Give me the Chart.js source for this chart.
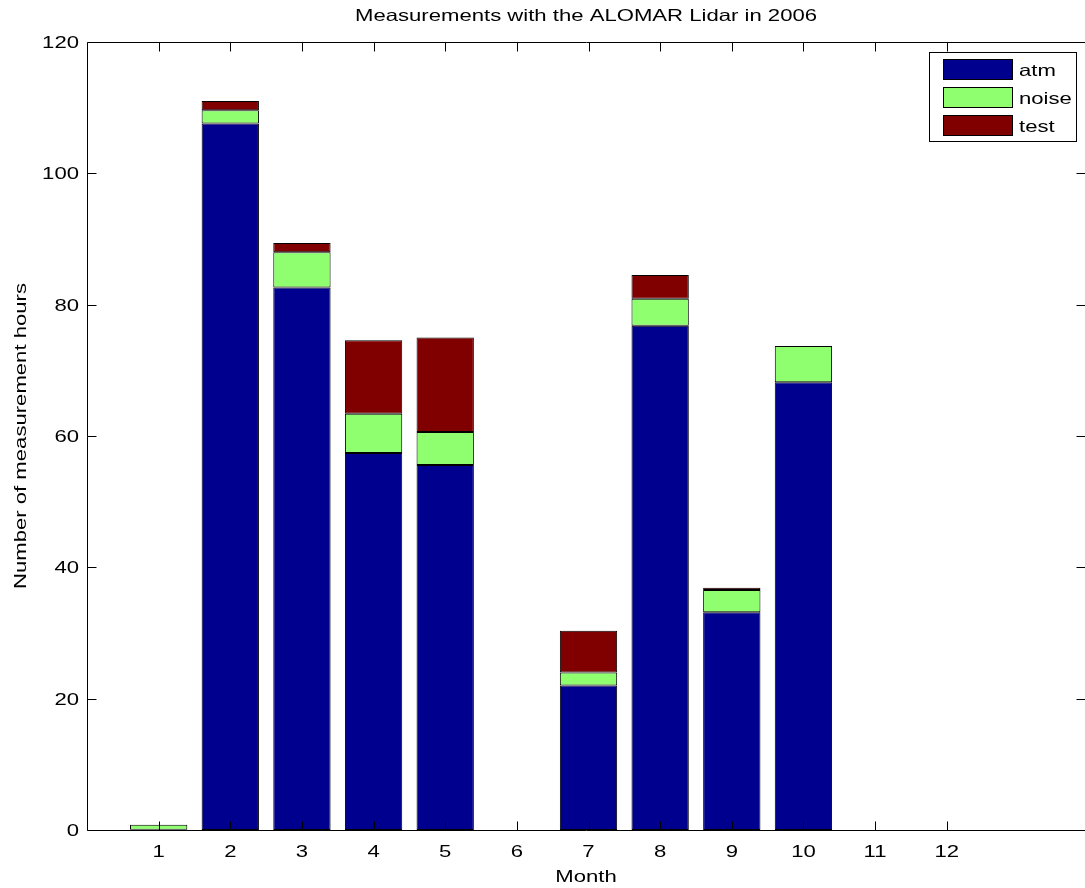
<!DOCTYPE html>
<html>
<head>
<meta charset="utf-8">
<title>Measurements with the ALOMAR Lidar in 2006</title>
<script src="https://cdn.jsdelivr.net/npm/chart.js@4.4.1/dist/chart.umd.min.js"></script>
<style>
  html, body { margin: 0; padding: 0; background: #ffffff; }
  #wrap { width: 1085px; height: 888px; }
</style>
</head>
<body>
<div id="wrap"><canvas id="c" width="1085" height="888"></canvas></div>
<script>
// Monthly measurement hours, stacked by kind
const months = [1, 2, 3, 4, 5, 6, 7, 8, 9, 10, 11, 12];
const atm   = [0.05, 107.6, 82.6, 57.4, 55.6, 0, 22.0, 76.8, 33.15, 68.2, 0, 0];
const noise = [0.75, 2.0, 5.4, 6.0, 5.0, 0, 2.0, 4.1, 3.4, 5.5, 0, 0];
const test  = [0, 1.4, 1.4, 11.2, 14.4, 0, 6.35, 3.6, 0.35, 0, 0, 0];
const yTicks = [0, 20, 40, 60, 80, 100, 120];
const xTickLabels = ['1', '2', '3', '4', '5', '6', '7', '8', '9', '10', '11', '12'];

const seriesNames = ['atm', 'noise', 'test'];
const seriesColors = ['rgb(0,0,143)', 'rgb(143,255,112)', 'rgb(128,0,0)'];

const FONT = '16.5px "Liberation Sans", Arial, sans-serif';
const SX = 1.34; // wide glyph rendering of the axis font

function txt(ctx, s, x, y, align, angle) {
  ctx.save();
  ctx.translate(x, y);
  if (angle) ctx.rotate(angle);
  ctx.scale(SX, 1);
  ctx.font = FONT;
  ctx.fillStyle = '#000';
  ctx.textAlign = align;
  ctx.textBaseline = 'alphabetic';
  ctx.fillText(s, 0, 0);
  ctx.restore();
}

function series(values) {
  return months.map((m, i) => ({ x: m, y: values[i] }));
}

const axesBox = {
  id: 'axesBox',
  afterDatasetsDraw(chart) {
    const ctx = chart.ctx;
    const a = chart.chartArea;
    const xs = chart.scales.x, ys = chart.scales.y;
    const L = Math.round(a.left) + 0.5, R = Math.round(a.right) + 0.5;
    const T = Math.round(a.top) + 0.5, B = Math.round(a.bottom) + 0.5;
    ctx.save();
    ctx.strokeStyle = '#000';
    ctx.lineWidth = 1;
    ctx.beginPath();
    ctx.moveTo(L, T); ctx.lineTo(R, T); ctx.lineTo(R, B); ctx.lineTo(L, B); ctx.closePath();
    ctx.stroke();
    const tl = 9;
    ctx.beginPath();
    yTicks.forEach(v => {
      const py = Math.round(ys.getPixelForValue(v)) + 0.5;
      ctx.moveTo(L, py); ctx.lineTo(L + tl, py);
      ctx.moveTo(R, py); ctx.lineTo(R - tl, py);
    });
    months.forEach(m => {
      const px = Math.round(xs.getPixelForValue(m)) + 0.5;
      ctx.moveTo(px, B); ctx.lineTo(px, B - tl);
      ctx.moveTo(px, T); ctx.lineTo(px, T + tl);
    });
    ctx.stroke();
    ctx.restore();

    // tick labels
    yTicks.forEach(v => {
      txt(ctx, String(v), a.left - 8, ys.getPixelForValue(v) + 6, 'right');
    });
    months.forEach((m, i) => {
      txt(ctx, xTickLabels[i], xs.getPixelForValue(m), a.bottom + 27, 'center');
    });

    // titles
    txt(ctx, 'Measurements with the ALOMAR Lidar in 2006', (a.left + a.right) / 2, 21, 'center');
    txt(ctx, 'Month', (a.left + a.right) / 2, 882, 'center');
    txt(ctx, 'Number of measurement hours', 26, (a.top + a.bottom) / 2, 'center', -Math.PI / 2);

    // legend
    const lx = 929.5, ly = 52.5, lw = 147, lh = 89;
    ctx.save();
    ctx.fillStyle = '#fff';
    ctx.fillRect(lx, ly, lw, lh);
    ctx.strokeStyle = '#000';
    ctx.lineWidth = 1;
    ctx.strokeRect(lx, ly, lw, lh);
    chart.data.datasets.forEach((ds, i) => {
      const ry = 59.5 + i * 28;
      ctx.fillStyle = ds.backgroundColor;
      ctx.fillRect(943.5, ry, 69, 20);
      ctx.strokeStyle = '#000';
      ctx.strokeRect(943.5, ry, 69, 20);
      txt(ctx, ds.label, 1019, ry + 16, 'left');
    });
    ctx.restore();
  }
};

new Chart(document.getElementById('c'), {
  type: 'bar',
  data: {
    datasets: [
      { label: seriesNames[0], data: series(atm), backgroundColor: seriesColors[0] },
      { label: seriesNames[1], data: series(noise), backgroundColor: seriesColors[1] },
      { label: seriesNames[2], data: series(test), backgroundColor: seriesColors[2] }
    ].map(d => Object.assign(d, {
      borderColor: '#000',
      borderWidth: 1,
      borderSkipped: false,
      barPercentage: 0.8,
      categoryPercentage: 1.0
    }))
  },
  options: {
    responsive: false,
    animation: false,
    devicePixelRatio: 1,
    layout: { padding: { left: 87, top: 42, right: 0, bottom: 58 } },
    plugins: {
      legend: { display: false },
      title: { display: false },
      tooltip: { enabled: false }
    },
    scales: {
      x: { type: 'linear', min: 0, max: 13.93, offset: false, stacked: true, display: false },
      y: { type: 'linear', min: 0, max: 120, stacked: true, display: false }
    }
  },
  plugins: [axesBox]
});
</script>
</body>
</html>
